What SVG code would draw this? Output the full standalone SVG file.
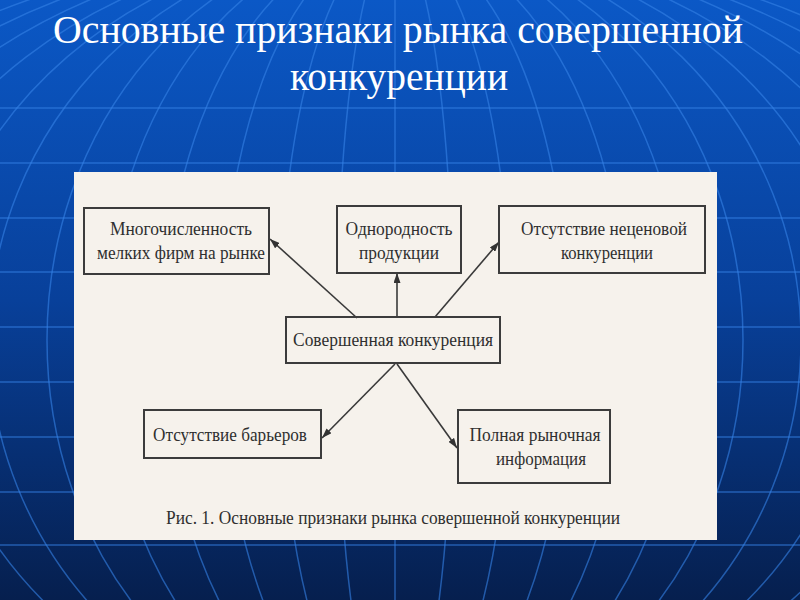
<svg xmlns="http://www.w3.org/2000/svg" width="800" height="600" viewBox="0 0 800 600">
  <defs>
    <linearGradient id="bg" x1="0" y1="0" x2="0" y2="1">
      <stop offset="0" stop-color="#0b58c6"/>
      <stop offset="0.5" stop-color="#08409a"/>
      <stop offset="1" stop-color="#061f4e"/>
    </linearGradient>
    <marker id="arr" viewBox="0 0 10 7" refX="10" refY="3.5" markerWidth="10" markerHeight="7" markerUnits="userSpaceOnUse" orient="auto">
      <path d="M0,0 L10,3.5 L0,7 z" fill="#333"/>
    </marker>
    <style>
      .grid { fill: none; stroke: #3582e6; stroke-opacity: 0.6; stroke-width: 1.5; }
      .title { font-family: "Liberation Serif", "Times New Roman", serif; font-size: 40px; fill: #ffffff; text-anchor: middle; }
      .box { fill: none; stroke: #3c3c3c; stroke-width: 2; }
      .lbl { font-family: "Liberation Serif", "Times New Roman", serif; font-size: 18.5px; fill: #2f2f2f; text-anchor: middle; }
      .conn { stroke: #3a3a3a; stroke-width: 1.6; fill: none; marker-end: url(#arr); }
    </style>
  </defs>

  <rect x="0" y="0" width="800" height="600" fill="url(#bg)"/>

  <g id="globe-grid" class="grid">
    <line x1="0" y1="108" x2="800" y2="108"/>
    <line x1="0" y1="163" x2="800" y2="163"/>
    <line x1="0" y1="218" x2="800" y2="218"/>
    <line x1="0" y1="272" x2="800" y2="272"/>
    <line x1="0" y1="327" x2="800" y2="327"/>
    <line x1="0" y1="382" x2="800" y2="382"/>
    <line x1="0" y1="437" x2="800" y2="437"/>
    <line x1="0" y1="492" x2="800" y2="492"/>
    <line x1="0" y1="545" x2="800" y2="545"/>
    <line x1="395" y1="0" x2="395" y2="600"/>
    <ellipse cx="395" cy="340" rx="58" ry="400"/>
    <ellipse cx="395" cy="340" rx="116" ry="400"/>
    <ellipse cx="395" cy="340" rx="174" ry="400"/>
    <ellipse cx="395" cy="340" rx="232" ry="400"/>
    <ellipse cx="395" cy="340" rx="290" ry="400"/>
    <ellipse cx="395" cy="340" rx="348" ry="400"/>
    <ellipse cx="395" cy="340" rx="406" ry="400"/>
    <ellipse cx="395" cy="340" rx="464" ry="400"/>
    <ellipse cx="395" cy="340" rx="522" ry="400"/>
    <ellipse cx="395" cy="340" rx="580" ry="400"/>
    <ellipse cx="395" cy="340" rx="638" ry="400"/>
    <ellipse cx="395" cy="340" rx="696" ry="400"/>
  </g>

  <g id="title">
    <text class="title" x="398" y="43" textLength="690" lengthAdjust="spacingAndGlyphs">Основные признаки рынка совершенной</text>
    <text class="title" x="399" y="90" textLength="218" lengthAdjust="spacingAndGlyphs">конкуренции</text>
  </g>

  <rect id="panel" x="74" y="172" width="643" height="368" fill="#f6f2ec"/>

  <g id="connectors">
    <line class="conn" x1="357" y1="318" x2="270" y2="239"/>
    <line class="conn" x1="397" y1="317" x2="397" y2="273"/>
    <line class="conn" x1="435" y1="317" x2="499" y2="242"/>
    <line class="conn" x1="395" y1="364" x2="322" y2="438"/>
    <line class="conn" x1="397" y1="364" x2="457" y2="448"/>
  </g>

  <g id="node-many-firms">
    <rect class="box" x="84" y="208" width="185" height="66"/>
    <text class="lbl" x="181" y="235" textLength="142" lengthAdjust="spacingAndGlyphs">Многочисленность</text>
    <text class="lbl" x="181" y="259" textLength="168" lengthAdjust="spacingAndGlyphs">мелких фирм на рынке</text>
  </g>

  <g id="node-homogeneity">
    <rect class="box" x="337" y="206" width="124" height="67"/>
    <text class="lbl" x="399" y="235" textLength="107" lengthAdjust="spacingAndGlyphs">Однородность</text>
    <text class="lbl" x="399" y="259" textLength="80" lengthAdjust="spacingAndGlyphs">продукции</text>
  </g>

  <g id="node-nonprice">
    <rect class="box" x="499" y="206" width="206" height="67"/>
    <text class="lbl" x="604" y="235" textLength="166" lengthAdjust="spacingAndGlyphs">Отсутствие неценовой</text>
    <text class="lbl" x="607" y="259" textLength="92" lengthAdjust="spacingAndGlyphs">конкуренции</text>
  </g>

  <g id="node-center">
    <rect class="box" x="286" y="317" width="214" height="46"/>
    <text class="lbl" x="393" y="346" textLength="200" lengthAdjust="spacingAndGlyphs">Совершенная конкуренция</text>
  </g>

  <g id="node-barriers">
    <rect class="box" x="144" y="410" width="177" height="48"/>
    <text class="lbl" x="230" y="441" textLength="154" lengthAdjust="spacingAndGlyphs">Отсутствие барьеров</text>
  </g>

  <g id="node-information">
    <rect class="box" x="458" y="410" width="152" height="73"/>
    <text class="lbl" x="535" y="441" textLength="131" lengthAdjust="spacingAndGlyphs">Полная рыночная</text>
    <text class="lbl" x="541" y="465" textLength="90" lengthAdjust="spacingAndGlyphs">информация</text>
  </g>

  <text id="caption" class="lbl" x="393" y="524" textLength="454" lengthAdjust="spacingAndGlyphs">Рис. 1. Основные признаки рынка совершенной конкуренции</text>
</svg>
